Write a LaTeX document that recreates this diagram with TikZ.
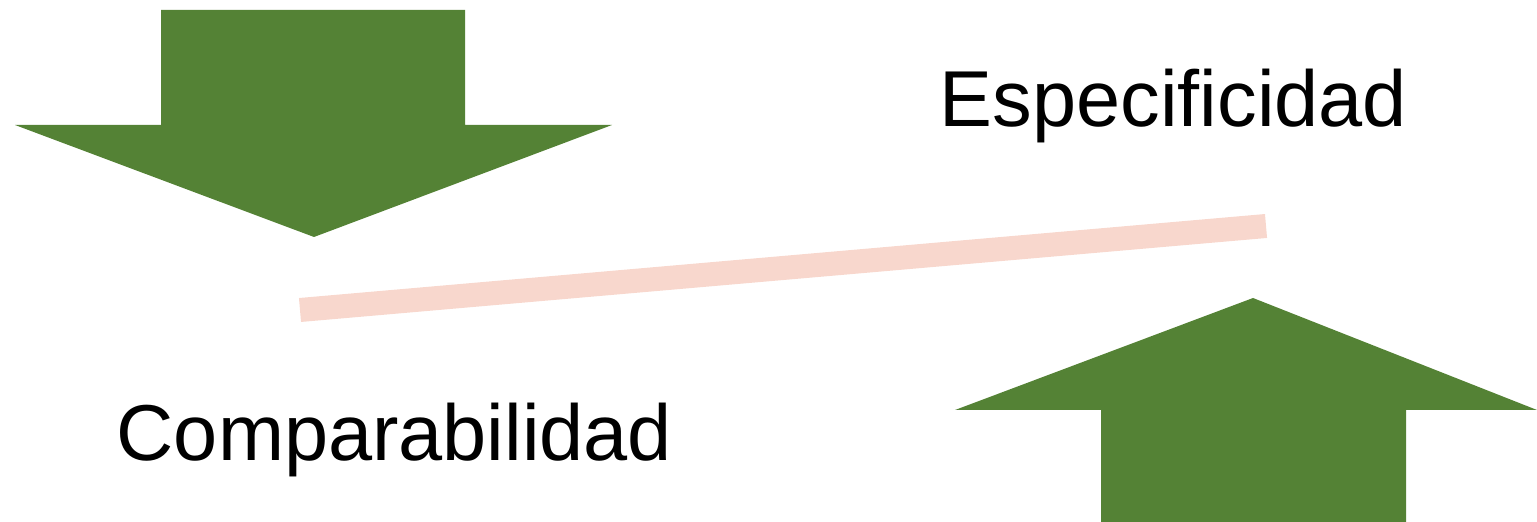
\documentclass[tikz,border=0pt]{standalone}
\usepackage{fontspec}
\setmainfont{Liberation Sans}
\definecolor{verde}{HTML}{548235}
\definecolor{rosa}{HTML}{F8D7CD}
\begin{document}
\begin{tikzpicture}[x=0.01cm,y=-0.01cm, line join=miter,
		etiqueta/.style={anchor=base west, inner sep=0pt, font=\fontsize{22.55}{27}\selectfont}]
				\useasboundingbox (0,0) rectangle (1537,522);
				%\draw[thin,color=gray!50] (0,0) grid[step=100] (1537,522);
				% flecha hacia abajo
				\fill[verde] (161,10)--(465,10)--(465,125)--(612,125)--(314,237)--(15,125)--(161,125)--cycle;
				% flecha hacia arriba
				\fill[verde] (1101,522)--(1406,522)--(1406,410)--(1537,410)--(1253,298)--(955,410)--(1101,410)--cycle;
				% linea
				\draw[rosa, line width=0.24cm] (300,310)--(1266,226);
				\node[etiqueta] (esp) at (939,127) {Especificidad};
				\node[etiqueta] (comp) at (116,461) {Comparabilidad};
		\end{tikzpicture}
\end{document}
